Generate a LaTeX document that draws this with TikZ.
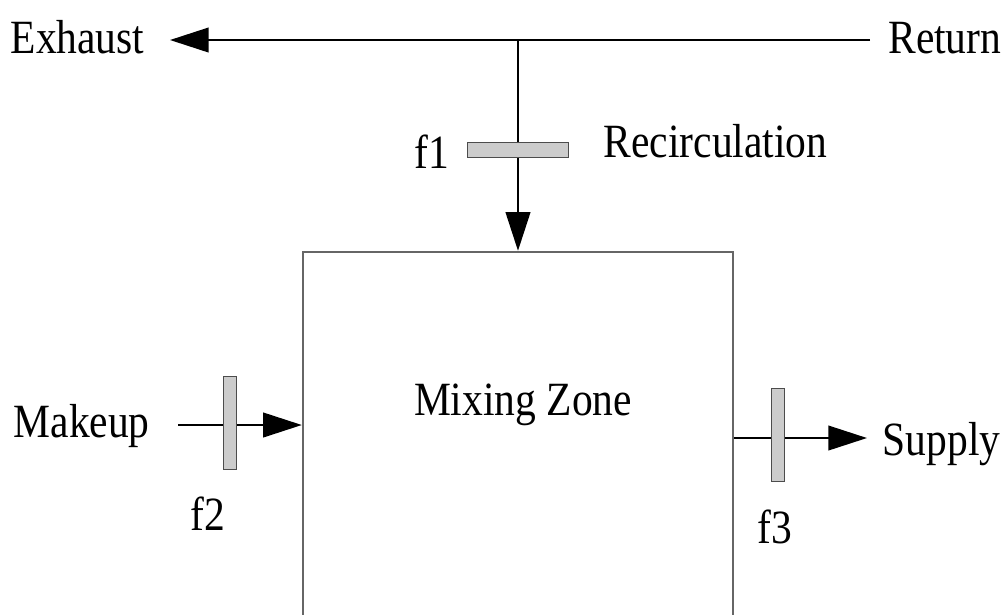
\documentclass[tikz,border=0pt]{standalone}
\usepackage{fontspec}
\setmainfont{Liberation Serif}
\usetikzlibrary{arrows.meta}
\newcommand\tallText[1]{\scalebox{1}[1.15]{#1}}

\begin{document}
\begin{tikzpicture}[x=0.01cm,y=-0.01cm,>={Triangle[length=11pt,width=7pt]},
  lbl/.style={inner sep=0pt,font=\fontsize{11.8}{14}\selectfont},
  damper/.style={draw=black!70,line width=.3pt,fill=black!20,inner sep=0pt},
  arr/.style={->,line width=.6pt,draw=black}]
\clip (0,0) rectangle (1008,614);
\node[draw=black!60,line width=.6pt,minimum width=4.3cm,minimum height=5cm,inner sep=0pt] (mix) at (518,502) {};
\node[lbl,anchor=base] (mixlbl) at (523,415) {\tallText{Mixing Zone}};
\coordinate (ret) at (870,40);
\coordinate (exh) at (170,40);
\coordinate (tee) at (518,40);
\coordinate (mk) at (178,425);
\coordinate (sup) at (867,438);
\draw[arr] (ret) -- (exh);
\draw[arr] (tee) -- (mix.north);
\draw[arr] (mk) -- (mk -| mix.west);
\draw[arr] (sup -| mix.east) -- (sup);
\node[damper,minimum width=1cm,minimum height=.15cm] (f1) at (518,150) {};
\node[damper,minimum width=.13cm,minimum height=.93cm] (f2) at (230,423) {};
\node[damper,minimum width=.13cm,minimum height=.93cm] (f3) at (778,435) {};
\node[lbl,anchor=base west] (exhaust) at (10,53) {\tallText{Exhaust}};
\node[lbl,anchor=base east] (return) at (1002,53) {\tallText{Return}};
\node[lbl,anchor=base west] (recirc) at (603,157) {\tallText{Recirculation}};
\node[lbl,anchor=base] (lblf1) at (432,168) {\tallText{f1}};
\node[lbl,anchor=base west] (makeup) at (13,437) {\tallText{Makeup}};
\node[lbl,anchor=base west] (supply) at (882,455) {\tallText{Supply}};
\node[lbl,anchor=base] (lblf2) at (208,530) {\tallText{f2}};
\node[lbl,anchor=base] (lblf3) at (775,543) {\tallText{f3}};
\end{tikzpicture}
\end{document}
